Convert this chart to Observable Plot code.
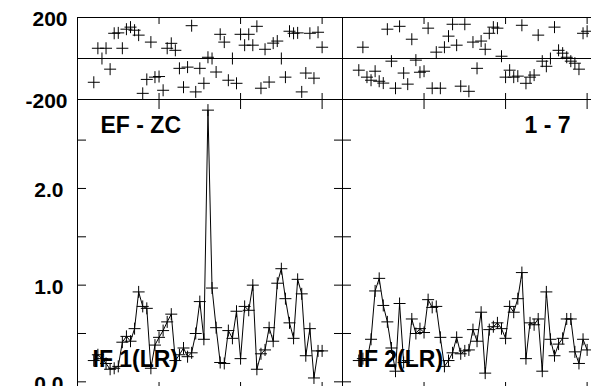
<!DOCTYPE html>
<html>
<head>
<meta charset="utf-8">
<script src="https://cdn.jsdelivr.net/npm/d3@7"></script>
<script src="https://cdn.jsdelivr.net/npm/@observablehq/plot@0.6"></script>
<style>
  html, body { margin: 0; padding: 0; background: white; }
  #chart { position: relative; width: 591px; height: 386px; overflow: hidden; background: white; }
  #chart > div, #chart > svg { position: absolute; left: 0; top: 0; }
</style>
</head>
<body>
<div id="chart"></div>
<script>
// ---- data ----
const panels = ["EF - ZC", "1 - 7"];
const subLabels = ["IF 1(LR)", "IF 2(LR)"];
const channels = [4,5,6,7,8,9,10,11,12,13,14,15,16,17,18,19,20,21,22,23,24,25,26,27,28,29,30,31,32,33,34,35,36,37,38,39,40,41,42,43,44,45,46,47,48,49,50,51,52,53,54,55,56,57,58,59,60];
const ampIF1 = [0.22,0.28,0.24,0.19,0.13,0.14,0.16,0.41,0.47,0.42,0.55,0.93,0.78,0.76,0.14,0.38,0.46,0.53,0.62,0.70,0.22,0.28,0.35,0.26,0.30,0.50,0.83,0.44,2.81,0.97,0.56,0.20,0.19,0.53,0.45,0.73,0.24,0.78,0.74,1.00,0.13,0.29,0.33,0.56,0.42,1.02,1.17,0.86,0.61,0.45,1.06,0.91,0.27,0.55,0.04,0.32,0.32];
const ampIF2 = [0.22,0.24,0.22,0.44,0.94,1.07,0.79,0.62,0.35,0.11,0.81,0.20,0.22,0.65,0.50,0.55,0.51,0.85,0.77,0.78,0.46,0.16,0.22,0.30,0.46,0.29,0.32,0.33,0.54,0.42,0.72,0.09,0.54,0.57,0.61,0.55,0.45,0.78,0.72,0.86,1.13,0.24,0.61,0.59,0.65,0.11,0.93,0.44,0.27,0.39,0.45,0.65,0.65,0.31,0.19,0.44,0.33];
const phaseIF1 = [-116,50,0,50,-52,123,125,50,143,153,138,114,-170,-102,80,-91,-88,-155,50,74,40,-48,-140,-42,160,-163,-48,-121,6,0,-66,118,80,-106,0,-121,118,65,118,65,157,-145,45,-115,75,85,0,-91,133,123,125,-163,-71,123,-96,128,55];
const phaseIF2 = [-57,55,-91,-106,-62,-111,-120,143,-13,-145,157,-71,-125,94,-8,-67,-62,148,-145,31,-145,55,109,167,65,-135,167,-160,80,-48,85,45,123,153,148,11,-91,-57,-91,-86,162,-121,-91,-81,114,-13,-38,0,153,40,26,6,-13,-23,-52,123,133];
const xTicks = [20, 40, 60];
const phaseTicks = [-200, 200];
const phaseMinorTicks = [-200, 0, 200];
const ampTicks = [0, 0.5, 1, 1.5, 2, 2.5];
const ampLabelTicks = [0, 1, 2];

// ---- tables built from the arrays ----
const ampRows = [];
const phaseRows = [];
channels.forEach((ch, i) => {
  ampRows.push({panel: panels[0], ch, amp: ampIF1[i]});
  phaseRows.push({panel: panels[0], ch, phase: phaseIF1[i]});
});
channels.forEach((ch, i) => {
  ampRows.push({panel: panels[1], ch, amp: ampIF2[i]});
  phaseRows.push({panel: panels[1], ch, phase: phaseIF2[i]});
});
const labelRows = panels.map((p, i) => ({panel: p, title: p, sub: subLabels[i]}));

// "+" marker drawn as two strokes
const plus = {
  draw(ctx, size) {
    const r = Math.sqrt(size / Math.PI);
    ctx.moveTo(-r, 0); ctx.lineTo(r, 0);
    ctx.moveTo(0, -r); ctx.lineTo(0, r);
  }
};

const font = "'Liberation Sans', Arial, sans-serif";
const svgStyle = {background: "transparent", maxWidth: "none", overflow: "visible", fontFamily: font};
const noText = () => "";

const topPlot = Plot.plot({
  width: 607, height: 100,
  marginTop: 17, marginBottom: 1, marginLeft: 77, marginRight: 0,
  style: svgStyle,
  fx: {domain: panels, padding: 0, axis: null, label: null},
  x: {domain: [0, 65]},
  y: {domain: [-200, 200]},
  marks: [
    Plot.frame({stroke: "#000"}),
    Plot.ruleY([0], {stroke: "#000"}),
    Plot.axisX({anchor: "top", ticks: xTicks, tickSize: -6, tickFormat: noText, label: null, stroke: "#000"}),
    Plot.axisX({anchor: "bottom", ticks: xTicks, tickSize: -6, tickFormat: noText, label: null, stroke: "#000"}),
    Plot.axisY({anchor: "left", ticks: phaseMinorTicks, tickSize: -5, tickFormat: noText, label: null, facetAnchor: null}),
    Plot.axisY({anchor: "right", ticks: phaseMinorTicks, tickSize: -5, tickFormat: noText, label: null, facetAnchor: null}),
    Plot.axisY({anchor: "left", ticks: phaseTicks, tickSize: 0, tickPadding: 10, tickFormat: d => String(d),
      fontSize: 21, fontWeight: "bold", fill: "#000", label: null, dy: 2}),
    Plot.dot(phaseRows, {fx: "panel", x: "ch", y: "phase", symbol: plus, r: 6, stroke: "#000", fill: "none", strokeWidth: 1})
  ]
});

const botPlot = Plot.plot({
  width: 607, height: 391,
  marginTop: 99, marginBottom: 0, marginLeft: 77, marginRight: 0,
  style: svgStyle,
  fx: {domain: panels, padding: 0, axis: null, label: null},
  x: {domain: [0, 65]},
  y: {domain: [-0.1, 2.92]},
  marks: [
    Plot.frame({stroke: "#000"}),
    Plot.axisX({anchor: "top", ticks: xTicks, tickSize: -9, tickFormat: noText, label: null}),
    Plot.axisX({anchor: "bottom", ticks: xTicks, tickSize: -9, tickFormat: noText, label: null}),
    Plot.axisY({anchor: "left", ticks: ampTicks, tickSize: -9, tickFormat: noText, label: null, facetAnchor: null}),
    Plot.axisY({anchor: "right", ticks: ampTicks, tickSize: -9, tickFormat: noText, label: null, facetAnchor: null}),
    Plot.axisY({anchor: "left", ticks: ampLabelTicks, tickSize: 0, tickPadding: 14, tickFormat: d3.format(".1f"),
      fontSize: 21, fontWeight: "bold", fill: "#000", label: null, dy: 2}),
    Plot.line(ampRows, {fx: "panel", x: "ch", y: "amp", stroke: "#000", strokeWidth: 1}),
    Plot.dot(ampRows, {fx: "panel", x: "ch", y: "amp", symbol: plus, r: 6, stroke: "#000", fill: "none", strokeWidth: 1}),
    Plot.text(labelRows.slice(0, 1), {fx: "panel", text: "title", frameAnchor: "top-left", textAnchor: "start",
      lineAnchor: "bottom", dx: 23, dy: 33, fontSize: 23, fontWeight: "bold", fill: "#000"}),
    Plot.text(labelRows.slice(1, 2), {fx: "panel", text: "title", frameAnchor: "top-right", textAnchor: "end",
      lineAnchor: "bottom", dx: -37, dy: 33, fontSize: 23, fontWeight: "bold", fill: "#000"}),
    Plot.text(labelRows, {fx: "panel", text: "sub", frameAnchor: "bottom-left", textAnchor: "start",
      lineAnchor: "bottom", dx: 15, dy: -25, fontSize: 23, fontWeight: "bold", fill: "#000"})
  ]
});

const chart = document.getElementById("chart");
chart.appendChild(botPlot);
chart.appendChild(topPlot);
</script>
</body>
</html>
